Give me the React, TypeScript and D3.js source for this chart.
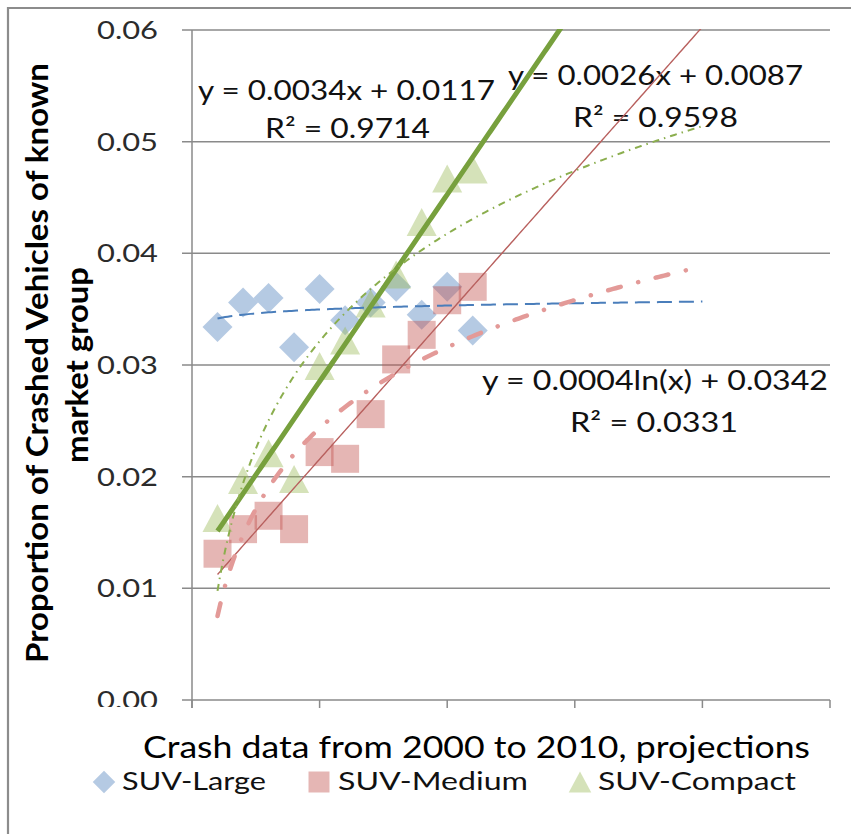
import React from 'react'
import * as d3 from 'd3'

const W = 857
const H = 834

// year index 1..11 = 2000..2010
const xIndex = [1, 2, 3, 4, 5, 6, 7, 8, 9, 10, 11]
const suvLarge = [0.0334, 0.0356, 0.036, 0.0316, 0.0368, 0.034, 0.0356, 0.037, 0.0345, 0.037, 0.0331]
const suvMedium = [0.0131, 0.0153, 0.0165, 0.0153, 0.0222, 0.0216, 0.0256, 0.0305, 0.0327, 0.0358, 0.037]
const suvCompact = [0.0163, 0.0197, 0.0221, 0.0198, 0.0299, 0.0322, 0.0355, 0.0381, 0.0428, 0.0467, 0.0475]

const forecastTo = 20
const yTicks = [0, 0.01, 0.02, 0.03, 0.04, 0.05, 0.06]
const xTicks = [0, 5, 10, 15, 20, 25]
const legendNames = ['SUV-Large', 'SUV-Medium', 'SUV-Compact']
const eqCompact = ['y = 0.0034x + 0.0117', 'R² = 0.9714']
const eqMedium = ['y = 0.0026x + 0.0087', 'R² = 0.9598']
const eqLarge = ['y = 0.0004ln(x) + 0.0342', 'R² = 0.0331']
const xTitle = 'Crash data from 2000 to 2010, projections'
const yTitle = ['Proportion of Crashed Vehicles of known', 'market group']

const FONT = 'Lato, "Open Sans", sans-serif'

// least squares on transformed x
function fit(xs: number[], ys: number[], tf: (v: number) => number) {
  const t = xs.map(tf)
  const mt = d3.mean(t) as number
  const my = d3.mean(ys) as number
  const sxy = d3.sum(t, (v, i) => (v - mt) * (ys[i] - my))
  const sxx = d3.sum(t, v => (v - mt) ** 2)
  const b = sxy / sxx
  const a = my - b * mt
  return (v: number) => a + b * tf(v)
}

const diamond = 'M0,-15L15,0L0,15L-15,0Z'
const square = 'M-14,-14H14V14H-14Z'
const triangle = 'M0,-14L15,14L-15,14Z'

export default function App() {
  const x = d3.scaleLinear().domain([0, 25]).range([192, 830])
  const y = d3.scaleLinear().domain([0, 0.06]).range([700, 30])

  const lin = (v: number) => v
  const trendX = d3.range(1, forecastTo + 0.001, 0.1)
  const line = d3.line<number>().x(d => x(d))

  const largeLog = fit(xIndex, suvLarge, Math.log)
  const medLin = fit(xIndex, suvMedium, lin)
  const medLog = fit(xIndex, suvMedium, Math.log)
  const compLin = fit(xIndex, suvCompact, lin)
  const compLog = fit(xIndex, suvCompact, Math.log)

  const path = (f: (v: number) => number) => line.y(d => y(f(d)))(trendX) as string

  const series = [
    { data: suvLarge, shape: diamond, color: '#4F81BD' },
    { data: suvMedium, shape: square, color: '#C0504D' },
    { data: suvCompact, shape: triangle, color: '#9BBB59' },
  ]

  return (
    <svg width={W} height={H} style={{ position: 'absolute', left: 0, top: 0, background: '#fff' }}>
      <defs>
        <clipPath id="plot">
          <rect x={192} y={29} width={638} height={672} />
        </clipPath>
        <clipPath id="ylab">
          <rect x={0} y={0} width={190} height={707} />
        </clipPath>
      </defs>

      {/* outer frame (left + top) */}
      <line x1={8} x2={8} y1={7} y2={H} stroke="#8c8c8c" strokeWidth={2.2} />
      <line x1={8} x2={851} y1={8} y2={8} stroke="#8c8c8c" strokeWidth={2.2} />

      {/* gridlines */}
      {yTicks.map(t => (
        <line key={t} x1={182} x2={830} y1={y(t)} y2={y(t)} stroke="#8a8a8a" strokeWidth={1.5} />
      ))}
      <line x1={192} x2={192} y1={y(0.06)} y2={708} stroke="#8a8a8a" strokeWidth={1.5} />
      {xTicks.map(t => (
        <line key={t} x1={x(t)} x2={x(t)} y1={700} y2={708} stroke="#8a8a8a" strokeWidth={1.5} />
      ))}

      {/* y tick labels */}
      <g clipPath="url(#ylab)">
        {yTicks.map(t => (
          <text key={t} x={158} y={y(t) + 9} textAnchor="end" fontFamily={FONT} fontSize={25}
            fill="#2b2b2b" textLength={61} lengthAdjust="spacingAndGlyphs">{t.toFixed(2)}</text>
        ))}
      </g>

      {/* axis titles */}
      <g transform="translate(48,363) rotate(-90)">
        <text x={0} y={0} textAnchor="middle" fontFamily={FONT} fontWeight="bold" fontSize={31}
          fill="#000" textLength={600} lengthAdjust="spacingAndGlyphs">{yTitle[0]}</text>
        <text x={-2} y={40} textAnchor="middle" fontFamily={FONT} fontWeight="bold" fontSize={31}
          fill="#000" textLength={196} lengthAdjust="spacingAndGlyphs">{yTitle[1]}</text>
      </g>
      <text x={143} y={758} fontFamily={FONT} fontSize={30} fill="#000" textLength={667}
        lengthAdjust="spacingAndGlyphs">{xTitle}</text>

      {/* equations */}
      <g fontFamily={FONT} fontSize={26} fill="#111">
        <text x={198} y={100} textLength={297} lengthAdjust="spacingAndGlyphs">{eqCompact[0]}</text>
        <text x={265} y={138} textLength={165} lengthAdjust="spacingAndGlyphs">{eqCompact[1]}</text>
        <text x={508} y={85} textLength={295} lengthAdjust="spacingAndGlyphs">{eqMedium[0]}</text>
        <text x={573} y={127} textLength={165} lengthAdjust="spacingAndGlyphs">{eqMedium[1]}</text>
        <text x={482} y={390} textLength={346} lengthAdjust="spacingAndGlyphs">{eqLarge[0]}</text>
        <text x={570} y={432} textLength={168} lengthAdjust="spacingAndGlyphs">{eqLarge[1]}</text>
      </g>

      {/* markers */}
      {series.map((s, si) => (
        <g key={si}>
          {s.data.map((v, i) => (
            <path key={i} d={s.shape} transform={`translate(${x(xIndex[i])},${y(v)})`}
              fill={s.color} fillOpacity={0.42} />
          ))}
        </g>
      ))}

      {/* trendlines */}
      <g clipPath="url(#plot)" fill="none">
        <path d={path(largeLog)} stroke="#4A7EBB" strokeWidth={2} strokeDasharray="15 7" />
        <path d={path(medLin)} stroke="#B8605E" strokeWidth={1.4} />
        <path d={path(medLog)} stroke="#E39A98" strokeWidth={4.5} strokeLinecap="round"
          strokeDasharray="13 18 0.1 18" />
        <path d={path(compLin)} stroke="#77A03D" strokeWidth={5} />
        <path d={path(compLog)} stroke="#8BAE4E" strokeWidth={2} strokeDasharray="7 5 1.5 5" />
      </g>

      {/* legend */}
      {series.map((s, i) => {
        const mx = [104, 319, 580][i]
        const tx = [122, 338, 598][i]
        const tw = [144, 190, 198][i]
        return (
          <g key={i}>
            <path d={s.shape} transform={`translate(${mx},782) scale(0.75)`} fill={s.color} fillOpacity={0.42} />
            <text x={tx} y={790} fontFamily={FONT} fontSize={25} fill="#111" textLength={tw}
              lengthAdjust="spacingAndGlyphs">{legendNames[i]}</text>
          </g>
        )
      })}
    </svg>
  )
}
